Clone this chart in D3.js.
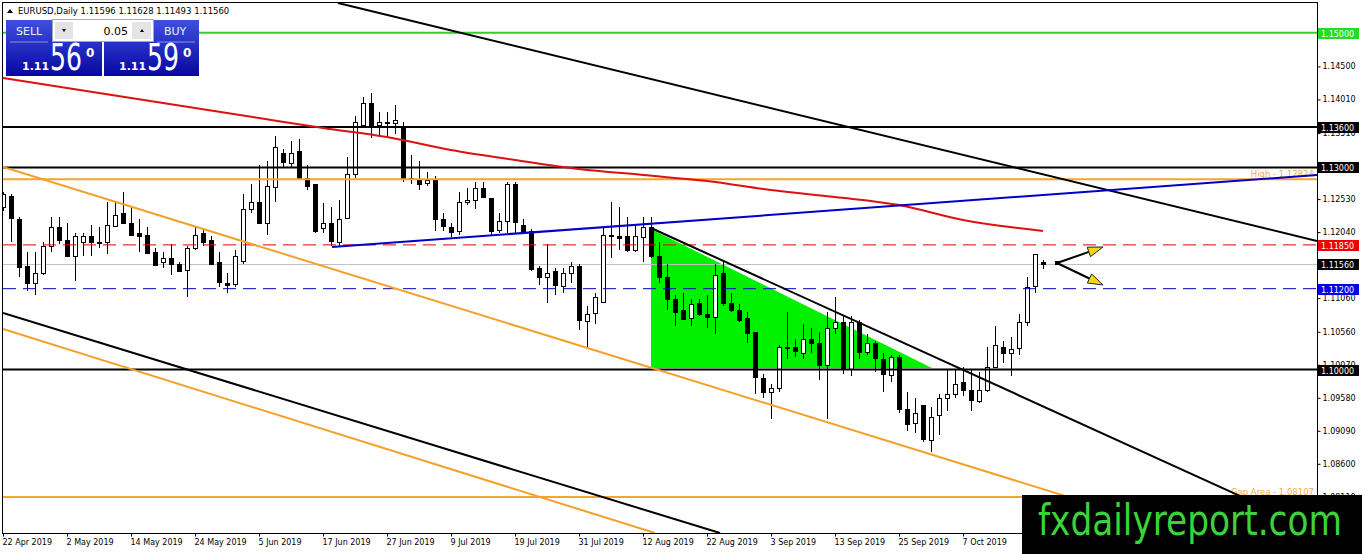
<!DOCTYPE html>
<html>
<head>
<meta charset="utf-8">
<script src="https://cdn.jsdelivr.net/npm/d3@7"></script>
<style>
    body { margin: 0; background: #fff; }
    svg { display: block; }
    text { font-family: "DejaVu Sans", Tahoma, sans-serif; }
</style>
</head>
<body>
<div class="canvas"></div>
<script>
const dims = {width: 1362, height: 554};
const plot = {left: 3, top: 3, right: 1317, bottom: 533};

// EURUSD daily bars, 22 Apr 2019 .. 21 Oct 2019
const opens = [
    1.1241, 1.1257, 1.1224, 1.1154, 1.1129, 1.1144, 1.1184, 1.1212, 1.1193, 1.1169,
    1.1189, 1.1198, 1.1190, 1.1189, 1.1212, 1.1233, 1.1218, 1.1202, 1.1200, 1.1174,
    1.1159, 1.1165, 1.1157, 1.1147, 1.1180, 1.1203, 1.1192, 1.1159, 1.1129, 1.1126,
    1.1162, 1.1239, 1.1249, 1.1218, 1.1272, 1.1321, 1.1307, 1.1324, 1.1285, 1.1275,
    1.1209, 1.1217, 1.1190, 1.1224, 1.1290, 1.1364, 1.1396, 1.1362, 1.1367, 1.1367,
    1.1358, 1.1282, 1.1281, 1.1276, 1.1282, 1.1223, 1.1212, 1.1205, 1.1248, 1.1251,
    1.1269, 1.1255, 1.1206, 1.1220, 1.1275, 1.1215, 1.1205, 1.1151, 1.1138, 1.1146,
    1.1123, 1.1143, 1.1153, 1.1073, 1.1083, 1.1101, 1.1200, 1.1198, 1.1198, 1.1177,
    1.1196, 1.1211, 1.1169, 1.1137, 1.1105, 1.1089, 1.1076, 1.1098, 1.1083, 1.1077,
    1.1144, 1.1099, 1.1089, 1.1077, 1.1055, 1.0988, 1.0967, 1.0973, 1.1033, 1.1033,
    1.1025, 1.1046, 1.1040, 1.1007, 1.1062, 1.1071, 1.1001, 1.1071, 1.1027, 1.1039,
    1.1016, 1.0993, 1.1018, 1.0942, 1.0921, 1.0947, 1.0896, 1.0932, 1.0957, 1.0963,
    1.0982, 1.0970, 1.0954, 1.0970, 1.1004, 1.1034, 1.1025, 1.1031, 1.1070, 1.1123,
    1.11596
];
const highs = [
    1.1264, 1.1260, 1.1226, 1.1174, 1.1174, 1.1189, 1.1227, 1.1227, 1.1218, 1.1203,
    1.1203, 1.1215, 1.1212, 1.1249, 1.1248, 1.1263, 1.1241, 1.1223, 1.1212, 1.1181,
    1.1174, 1.1187, 1.1159, 1.1184, 1.1212, 1.1208, 1.1198, 1.1174, 1.1143, 1.1177,
    1.1260, 1.1276, 1.1304, 1.1309, 1.1346, 1.1328, 1.1339, 1.1342, 1.1303, 1.1275,
    1.1247, 1.1242, 1.1252, 1.1316, 1.1376, 1.1404, 1.1410, 1.1382, 1.1382, 1.1392,
    1.1368, 1.1319, 1.1309, 1.1293, 1.1287, 1.1233, 1.1218, 1.1263, 1.1270, 1.1279,
    1.1279, 1.1255, 1.1232, 1.1278, 1.1279, 1.1223, 1.1208, 1.1154, 1.1186, 1.1151,
    1.1151, 1.1159, 1.1156, 1.1095, 1.1114, 1.1211, 1.1248, 1.1241, 1.1226, 1.1215,
    1.1227, 1.1227, 1.1189, 1.1157, 1.1111, 1.1113, 1.1105, 1.1104, 1.1111, 1.1156,
    1.1159, 1.1114, 1.1097, 1.1086, 1.1055, 1.0993, 1.0978, 1.1036, 1.1085, 1.1046,
    1.1067, 1.1061, 1.1055, 1.1086, 1.1108, 1.1080, 1.1079, 1.1074, 1.1052, 1.1042,
    1.1025, 1.1022, 1.1022, 1.0966, 1.0958, 1.0948, 1.0944, 1.0963, 1.1000, 1.1000,
    1.1003, 1.1000, 1.0996, 1.1034, 1.1064, 1.1042, 1.1048, 1.1083, 1.1138, 1.1172,
    1.11628
];
const lows = [
    1.1235, 1.1190, 1.1138, 1.1116, 1.1111, 1.1141, 1.1174, 1.1187, 1.1168, 1.1132,
    1.1168, 1.1168, 1.1181, 1.1171, 1.1211, 1.1217, 1.1198, 1.1175, 1.1171, 1.1153,
    1.1150, 1.1141, 1.1146, 1.1107, 1.1178, 1.1184, 1.1156, 1.1122, 1.1114, 1.1123,
    1.1157, 1.1233, 1.1217, 1.1200, 1.1248, 1.1301, 1.1300, 1.1282, 1.1266, 1.1202,
    1.1203, 1.1183, 1.1183, 1.1223, 1.1284, 1.1361, 1.1343, 1.1346, 1.1346, 1.1349,
    1.1278, 1.1275, 1.1267, 1.1272, 1.1205, 1.1205, 1.1196, 1.1200, 1.1244, 1.1238,
    1.1254, 1.1200, 1.1203, 1.1203, 1.1203, 1.1203, 1.1146, 1.1126, 1.1099, 1.1110,
    1.1113, 1.1129, 1.1058, 1.1033, 1.1068, 1.1099, 1.1166, 1.1178, 1.1174, 1.1175,
    1.1160, 1.1166, 1.1129, 1.1089, 1.1064, 1.1074, 1.1064, 1.1080, 1.1061, 1.1052,
    1.1094, 1.1085, 1.1071, 1.1040, 1.0963, 1.0957, 1.0926, 1.0967, 1.1016, 1.1018,
    1.1015, 1.1025, 1.0985, 1.0926, 1.1053, 1.0993, 1.0990, 1.1015, 1.1022, 1.0996,
    1.0966, 1.0982, 1.0936, 1.0908, 1.0906, 1.0893, 1.0878, 1.0903, 1.0939, 1.0957,
    1.0960, 1.0939, 1.0951, 1.0967, 1.1003, 1.1010, 1.0990, 1.1022, 1.1064, 1.1114,
    1.11493
];
const closes = [
    1.1260, 1.1224, 1.1153, 1.1129, 1.1144, 1.1184, 1.1212, 1.1192, 1.1169, 1.1198,
    1.1198, 1.1189, 1.1189, 1.1214, 1.1229, 1.1218, 1.1200, 1.1198, 1.1174, 1.1154,
    1.1165, 1.1156, 1.1147, 1.1180, 1.1200, 1.1190, 1.1157, 1.1129, 1.1126, 1.1168,
    1.1239, 1.1249, 1.1218, 1.1273, 1.1331, 1.1307, 1.1322, 1.1284, 1.1273, 1.1205,
    1.1217, 1.1190, 1.1224, 1.1290, 1.1367, 1.1396, 1.1364, 1.1367, 1.1366, 1.1371,
    1.1284, 1.1284, 1.1275, 1.1281, 1.1224, 1.1212, 1.1205, 1.1248, 1.1251, 1.1269,
    1.1255, 1.1206, 1.1220, 1.1275, 1.1218, 1.1205, 1.1149, 1.1138, 1.1144, 1.1125,
    1.1143, 1.1153, 1.1073, 1.1083, 1.1107, 1.1200, 1.1198, 1.1195, 1.1177, 1.1198,
    1.1211, 1.1168, 1.1138, 1.1104, 1.1086, 1.1076, 1.1097, 1.1082, 1.1079, 1.1140,
    1.1099, 1.1088, 1.1074, 1.1055, 1.0988, 1.0967, 1.0973, 1.1034, 1.1032, 1.1027,
    1.1046, 1.1040, 1.1007, 1.1062, 1.1071, 1.1001, 1.1071, 1.1027, 1.1040, 1.1016,
    1.0993, 1.1019, 1.0941, 1.0920, 1.0936, 1.0896, 1.0930, 1.0957, 1.0963, 1.0978,
    1.0970, 1.0955, 1.0970, 1.1004, 1.1036, 1.1025, 1.1031, 1.1070, 1.1122, 1.1171,
    1.11560
];

// moving average (red), sampled every 8 bars
const maIndex = [0, 8, 16, 24, 32, 40, 48, 56, 64, 72, 80, 88, 96, 104, 112, 120, 130];
const maValues = [
    1.14328, 1.14180, 1.14031, 1.13883, 1.13734, 1.13586, 1.13452, 1.13259, 1.13111,
    1.12977, 1.12888, 1.12799, 1.12665, 1.12561, 1.12442, 1.12220, 1.12056
];

const dateLabels = [
    '22 Apr 2019', '2 May 2019', '14 May 2019', '24 May 2019', '5 Jun 2019', '17 Jun 2019',
    '27 Jun 2019', '9 Jul 2019', '19 Jul 2019', '31 Jul 2019', '12 Aug 2019', '22 Aug 2019',
    '3 Sep 2019', '13 Sep 2019', '25 Sep 2019', '7 Oct 2019'
];
const labelStep = 8;

const priceTicks = [
    1.14500, 1.14010, 1.13510, 1.13020, 1.12530, 1.12040, 1.11550,
    1.11060, 1.10560, 1.10070, 1.09580, 1.09090, 1.08600, 1.08110
];

// horizontal levels
const levelNames = ['target', 'res2', 'res1', 'high', 'redLine', 'bid', 'blueLine', 'base', 'gap'];
const levelPrices = [1.15, 1.136, 1.13, 1.12824, 1.1185, 1.1156, 1.112, 1.1, 1.08107];
const levelTexts = {high: 'High - 1.12824', gap: 'Gap Area - 1.08107'};

// trend lines: [bar index, price, bar index, price]
const trendNames = ['topBlack', 'blue', 'fallBlack', 'upperOrange', 'lowerOrange', 'lowerBlack'];
const trendPoints = [
    [41.875, 1.15442, 164.25, 1.11908],
    [41.125, 1.11819, 164.25, 1.12888],
    [81, 1.12101, 164.25, 1.07602],
    [0, 1.13007, 164.25, 1.06964],
    [0, 1.10601, 81.5, 1.07572],
    [0, 1.10839, 89.625, 1.07572]
];

// green triangle
const triangle = [[81, 1.12086], [116.125, 1.10022], [81, 1.10022]];

// forecast arrows
const arrowFrom = [131.75, 1.11581];
const arrowTo = [[137.5, 1.11819], [137.5, 1.11255]];

const bars = opens.map((o, i) => ({i, o, h: highs[i], l: lows[i], c: closes[i]}));

const x = d3.scaleLinear().domain([0, 164.25]).range([plot.left, plot.right]);
const y = d3.scaleLinear().domain([1.1, 1.15]).range([369.5, 32.75]);
const fmt = d3.format('.5f');

const svg = d3.select('.canvas')
    .append('svg')
    .attr('width', dims.width)
    .attr('height', dims.height);

const defs = svg.append('defs');
defs.append('clipPath').attr('id', 'plotClip')
    .append('rect')
    .attr('x', plot.left).attr('y', plot.top)
    .attr('width', plot.right - plot.left).attr('height', plot.bottom - plot.top);

const grad = defs.append('linearGradient').attr('id', 'panelGrad')
    .attr('x1', 0).attr('y1', 0).attr('x2', 0).attr('y2', 1);
grad.append('stop').attr('offset', '0%').attr('stop-color', '#3f4fe2');
grad.append('stop').attr('offset', '100%').attr('stop-color', '#0707a0');

const graph = svg.append('g').attr('clip-path', 'url(#plotClip)');

// triangle behind the bars
graph.append('path')
    .attr('d', d3.line().x(d => x(d[0])).y(d => y(d[1]))(triangle) + 'Z')
    .attr('fill', '#00f000');

// bid line behind candles
graph.append('line')
    .attr('x1', plot.left).attr('x2', plot.right)
    .attr('y1', Math.round(y(1.1156)) + 0.5).attr('y2', Math.round(y(1.1156)) + 0.5)
    .attr('stroke', '#c0c0c0');

// candles
const candles = graph.append('g').attr('shape-rendering', 'crispEdges');
candles.selectAll('line.wick')
    .data(bars)
    .enter().append('line')
    .attr('class', 'wick')
    .attr('x1', d => Math.round(x(d.i)) + 0.5)
    .attr('x2', d => Math.round(x(d.i)) + 0.5)
    .attr('y1', d => y(d.h))
    .attr('y2', d => y(d.l))
    .attr('stroke', '#000');

candles.selectAll('rect.body')
    .data(bars)
    .enter().append('rect')
    .attr('class', 'body')
    .attr('x', d => Math.round(x(d.i)) - 2 + 0.5)
    .attr('width', 4)
    .attr('y', d => Math.round(y(Math.max(d.o, d.c))) + 0.5)
    .attr('height', d => Math.max(1, Math.round(Math.abs(y(d.o) - y(d.c)))))
    .attr('fill', d => d.c >= d.o ? '#fff' : '#000')
    .attr('stroke', '#000');

// level styles
const levelStyle = {
    target:   {stroke: '#33cc33', width: 2, tag: '#22dd22'},
    res2:     {stroke: '#000', width: 2, tag: '#000'},
    res1:     {stroke: '#000', width: 2, tag: '#000'},
    high:     {stroke: '#f4a52c', width: 2},
    redLine:  {stroke: '#e00000', width: 1, dash: '13,7', tag: '#f00000'},
    bid:      {stroke: 'none', width: 1, tag: '#000'},
    blueLine: {stroke: '#0000c0', width: 1, dash: '13,7', tag: '#0000f0'},
    base:     {stroke: '#000', width: 2, tag: '#000'},
    gap:      {stroke: '#f4a52c', width: 2}
};

const levels = levelNames.map((name, k) => ({name, price: levelPrices[k]}));

graph.selectAll('line.level')
    .data(levels)
    .enter().append('line')
    .attr('class', 'level')
    .attr('x1', plot.left).attr('x2', plot.right)
    .attr('y1', d => y(d.price)).attr('y2', d => y(d.price))
    .attr('stroke', d => levelStyle[d.name].stroke)
    .attr('stroke-width', d => levelStyle[d.name].width)
    .attr('stroke-dasharray', d => levelStyle[d.name].dash || null);

// level captions
graph.selectAll('text.caption')
    .data(levels.filter(d => levelTexts[d.name]))
    .enter().append('text')
    .attr('class', 'caption')
    .attr('x', plot.right - 3)
    .attr('y', d => y(d.price) - 2)
    .attr('text-anchor', 'end')
    .attr('font-size', 8.5)
    .attr('fill', '#f0ac45')
    .text(d => levelTexts[d.name]);

// trend lines and MA
const trendStyle = {
    topBlack: '#000', blue: '#0000c8', fallBlack: '#000',
    upperOrange: '#f4a02a', lowerOrange: '#f4a02a', lowerBlack: '#000'
};

graph.append('path')
    .datum(maIndex.map((d, k) => [d, maValues[k]]))
    .attr('d', d3.line().curve(d3.curveMonotoneX).x(d => x(d[0])).y(d => y(d[1])))
    .attr('fill', 'none')
    .attr('stroke', '#dd1111')
    .attr('stroke-width', 2);

graph.selectAll('line.trend')
    .data(trendNames.map((name, k) => ({name, p: trendPoints[k]})))
    .enter().append('line')
    .attr('class', 'trend')
    .attr('x1', d => x(d.p[0])).attr('y1', d => y(d.p[1]))
    .attr('x2', d => x(d.p[2])).attr('y2', d => y(d.p[3]))
    .attr('stroke', d => trendStyle[d.name])
    .attr('stroke-width', 2);

// arrows
const ax = x(arrowFrom[0]), ay = y(arrowFrom[1]);
graph.append('rect')
    .attr('x', ax - 2).attr('y', ay - 2).attr('width', 4).attr('height', 4)
    .attr('fill', '#000');
arrowTo.forEach(t => {
    const tx = x(t[0]), ty = y(t[1]);
    const len = Math.hypot(tx - ax, ty - ay);
    const ux = (tx - ax) / len, uy = (ty - ay) / len;
    const headLen = 15, half = 5;
    const bx = tx - ux * headLen, by = ty - uy * headLen;
    graph.append('line')
        .attr('x1', ax).attr('y1', ay).attr('x2', bx).attr('y2', by)
        .attr('stroke', '#000').attr('stroke-width', 2);
    graph.append('path')
        .attr('d', `M${tx},${ty} L${bx - uy * half},${by + ux * half} L${bx + uy * half},${by - ux * half} Z`)
        .attr('fill', '#f7d617')
        .attr('stroke', '#222')
        .attr('stroke-width', 1);
});

// frame
svg.append('rect')
    .attr('x', plot.left - 0.5).attr('y', plot.top - 0.5)
    .attr('width', plot.right - plot.left + 1).attr('height', plot.bottom - plot.top + 1)
    .attr('fill', 'none')
    .attr('stroke', '#000');

// price axis
const yAxis = svg.append('g')
    .attr('transform', `translate(${plot.right + 0.5}, 0)`)
    .call(d3.axisRight(y).tickValues(priceTicks).tickSize(3).tickPadding(2).tickFormat(fmt));
yAxis.select('.domain').remove();
yAxis.selectAll('text').attr('font-size', 8).attr('font-family', '"DejaVu Sans", sans-serif').attr('fill', '#000');

// price tags
const tags = svg.append('g');
levels.filter(d => levelStyle[d.name].tag).forEach(d => {
    const ty = y(d.price);
    tags.append('rect')
        .attr('x', plot.right + 1).attr('y', Math.round(ty) - 5)
        .attr('width', 41).attr('height', 11)
        .attr('fill', levelStyle[d.name].tag);
    tags.append('text')
        .attr('x', plot.right + 4).attr('y', Math.round(ty) + 3.5)
        .attr('font-size', 8)
        .attr('fill', '#fff')
        .text(fmt(d.price));
});

// time axis
const xAxis = svg.append('g')
    .attr('transform', `translate(0, ${plot.bottom + 0.5})`)
    .call(d3.axisBottom(x)
        .tickValues(dateLabels.map((d, k) => k * labelStep))
        .tickSize(3).tickPadding(3)
        .tickFormat((d, k) => dateLabels[k]));
xAxis.select('.domain').remove();
xAxis.selectAll('text')
    .attr('text-anchor', 'start')
    .attr('x', -1)
    .attr('font-size', 8)
    .attr('font-family', '"DejaVu Sans", sans-serif')
    .attr('fill', '#000');

// header
svg.append('path').attr('d', 'M7,13 L10,9 L13,13 Z').attr('fill', '#000');
svg.append('text')
    .attr('x', 18).attr('y', 14)
    .attr('font-size', 8.5)
    .attr('fill', '#000')
    .text('EURUSD,Daily  1.11596 1.11628 1.11493 1.11560');

// one click trading panel
const panel = svg.append('g');
panel.append('rect').attr('x', 6).attr('y', 20).attr('width', 96).attr('height', 56).attr('fill', 'url(#panelGrad)');
panel.append('rect').attr('x', 104).attr('y', 20).attr('width', 95).attr('height', 56).attr('fill', 'url(#panelGrad)');
panel.append('rect').attr('x', 52.5).attr('y', 19.5).attr('width', 101).attr('height', 22)
    .attr('fill', '#fff').attr('stroke', '#a8a8a8');
panel.append('rect').attr('x', 55).attr('y', 22).attr('width', 18).attr('height', 17).attr('fill', '#e4e4e4');
panel.append('rect').attr('x', 132).attr('y', 22).attr('width', 19).attr('height', 17).attr('fill', '#e4e4e4');
panel.append('path').attr('d', 'M62,29 L66,29 L64,32 Z').attr('fill', '#000');
panel.append('path').attr('d', 'M140,32 L144,32 L142,29 Z').attr('fill', '#000');
panel.append('text').attr('x', 128).attr('y', 35).attr('text-anchor', 'end')
    .attr('font-size', 11).attr('fill', '#000').text('0.05');
panel.append('line').attr('x1', 10).attr('x2', 48).attr('y1', 42).attr('y2', 42).attr('stroke', '#8c92e6');
panel.append('line').attr('x1', 157).attr('x2', 195).attr('y1', 42).attr('y2', 42).attr('stroke', '#8c92e6');
panel.append('text').attr('x', 16).attr('y', 35).attr('font-size', 11).attr('fill', '#e8ecff').text('SELL');
panel.append('text').attr('x', 164).attr('y', 35).attr('font-size', 11).attr('fill', '#e8ecff').text('BUY');

const quote = (x0, big) => {
    panel.append('text').attr('x', x0).attr('y', 70)
        .attr('font-size', 11).attr('font-weight', 'bold')
        .attr('font-family', '"Liberation Sans", Arial, sans-serif')
        .attr('fill', '#fff').text('1.11');
    panel.append('text').attr('x', x0 + 28).attr('y', 70)
        .attr('font-size', 37)
        .attr('font-family', '"Open Sans", sans-serif')
        .attr('textLength', 32).attr('lengthAdjust', 'spacingAndGlyphs')
        .attr('fill', '#fff').text(big);
    panel.append('text').attr('x', x0 + 64).attr('y', 57)
        .attr('font-size', 12).attr('font-weight', 'bold')
        .attr('font-family', '"Open Sans", sans-serif')
        .attr('fill', '#fff').text('0');
};
quote(22, '56');
quote(119, '59');

// watermark
svg.append('rect').attr('x', 1022).attr('y', 495).attr('width', 340).attr('height', 59).attr('fill', '#000');
svg.append('text')
    .attr('x', 1038).attr('y', 535)
    .attr('font-size', 42)
    .attr('font-family', '"Liberation Sans", Arial, sans-serif')
    .attr('textLength', 304).attr('lengthAdjust', 'spacingAndGlyphs')
    .attr('fill', '#3ad43a')
    .text('fxdailyreport.com');
</script>
</body>
</html>
